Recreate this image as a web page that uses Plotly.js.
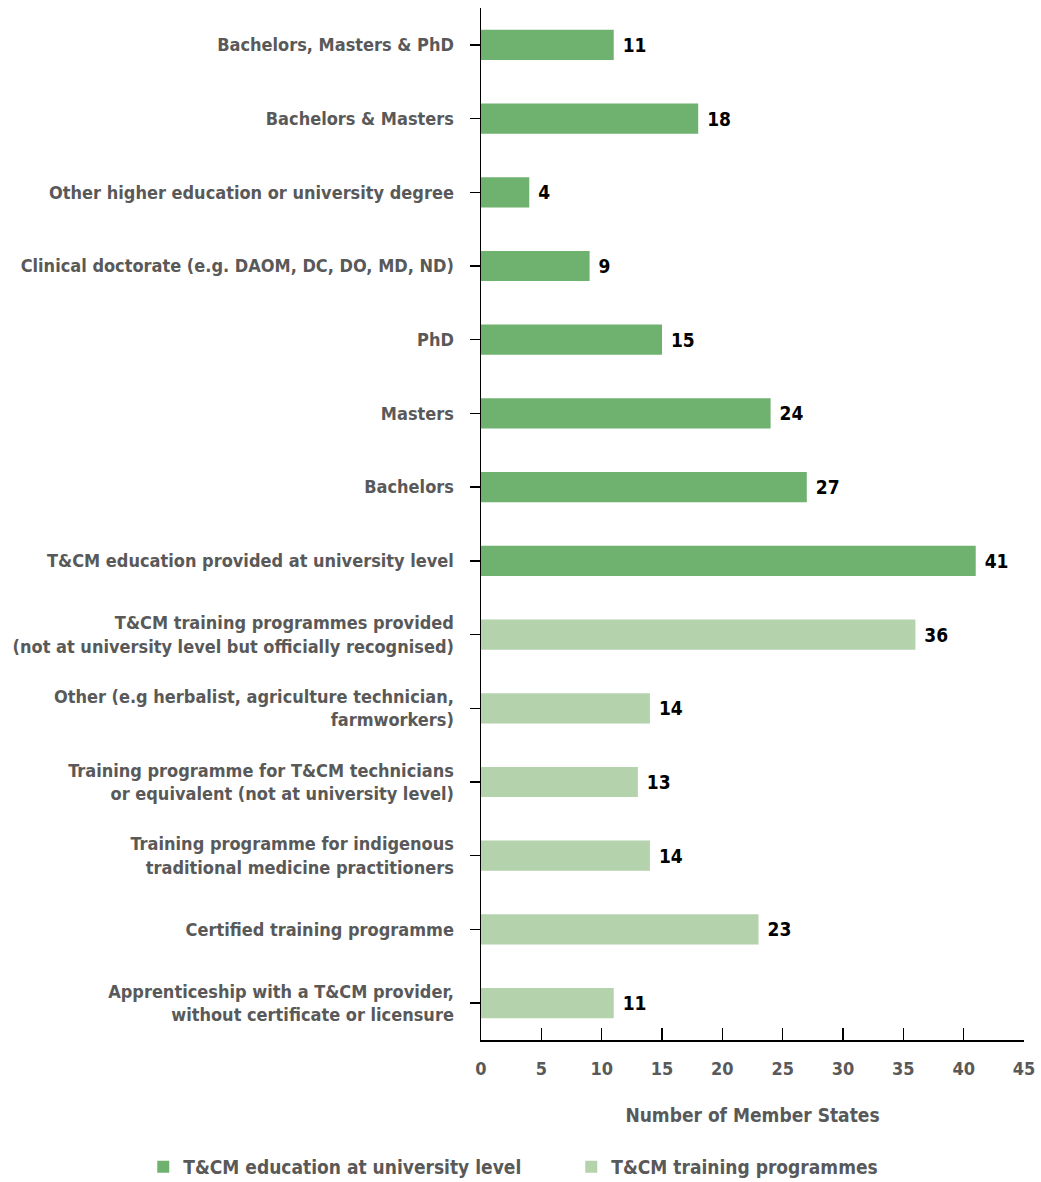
<!DOCTYPE html>
<html>
<head>
<meta charset="utf-8">
<script src="https://cdn.plot.ly/plotly-3.0.1.min.js"></script>
<style>html,body{margin:0;padding:0;background:#fff}#chart{width:1041px;height:1182px}</style>
</head>
<body>
<div id="chart"></div>
<script>
const universityCategories = [
  "Bachelors, Masters & PhD",
  "Bachelors & Masters",
  "Other higher education or university degree",
  "Clinical doctorate (e.g. DAOM, DC, DO, MD, ND)",
  "PhD",
  "Masters",
  "Bachelors",
  "<b>T&CM education provided at university level</b>"
];
const universityValues = [11, 18, 4, 9, 15, 24, 27, 41];

const trainingCategories = [
  "<b>T&CM training programmes provided</b><br>(not at university level but officially recognised)",
  "Other (e.g herbalist, agriculture technician,<br>farmworkers)",
  "Training programme for T&CM technicians<br>or equivalent (not at university level)",
  "Training programme for indigenous<br>traditional medicine practitioners",
  "Certified training programme",
  "Apprenticeship with a T&CM provider,<br>without certificate or licensure"
];
const trainingValues = [36, 14, 13, 14, 23, 11];

const seriesNames = ["T&CM education at university level", "T&CM training programmes"];
const xTicks = [0, 5, 10, 15, 20, 25, 30, 35, 40, 45];
const xTitle = "Number of Member States";

const FONT = "'DejaVu Sans Condensed', 'DejaVu Sans', sans-serif";
const allCats = universityCategories.concat(trainingCategories);
const f = (size, color) => ({family: FONT, size: size, color: color, weight: "bold", stretch: "condensed"});

const traces = [
  {
    type: "bar", orientation: "h", name: seriesNames[0],
    y: universityCategories, x: universityValues,
    marker: {color: "#6fb16f"}, width: 0.41,
    texttemplate: "\u00a0%{x}", textposition: "outside",
    textfont: f(19, "#000"),
    cliponaxis: false
  },
  {
    type: "bar", orientation: "h", name: seriesNames[1],
    y: trainingCategories, x: trainingValues,
    marker: {color: "#b4d2ac"}, width: 0.41,
    texttemplate: "\u00a0%{x}", textposition: "outside",
    textfont: f(19, "#000"),
    cliponaxis: false
  }
];

const layout = {
  width: 1041, height: 1182,
  margin: {l: 481, r: 17, t: 8, b: 142, autoexpand: false},
  paper_bgcolor: "#fff", plot_bgcolor: "#fff",
  font: f(18, "#595959"),
  barmode: "overlay",
  showlegend: true,
  legend: {
    orientation: "h", x: -0.622, xanchor: "left", y: -0.123, yanchor: "middle",
    entrywidth: 383, entrywidthmode: "pixels",
    font: f(19, "#595959"),
    traceorder: "normal"
  },
  xaxis: {
    range: [0, 45], tickvals: xTicks, ticktext: xTicks.map(String),
    showgrid: false, zeroline: false,
    showline: true, linecolor: "#000", linewidth: 1.5,
    ticks: "inside", ticklen: 12, tickwidth: 1.5, tickcolor: "#000",
    tickfont: f(18, "#595959"),
    ticklabelstandoff: 12,
    title: {text: xTitle, font: f(19, "#595959"), standoff: 30}
  },
  yaxis: {
    type: "category", categoryorder: "array", categoryarray: allCats,
    range: [13.5, -0.5],
    showgrid: false, zeroline: false,
    showline: true, linecolor: "#000", linewidth: 1.5,
    ticks: "outside", ticklen: 10, tickwidth: 1.5, tickcolor: "#000",
    tickfont: f(18, "#595959"),
    ticklabelstandoff: 12
  }
};

Plotly.newPlot("chart", traces, layout, {displayModeBar: false, staticPlot: true});
</script>
</body>
</html>
